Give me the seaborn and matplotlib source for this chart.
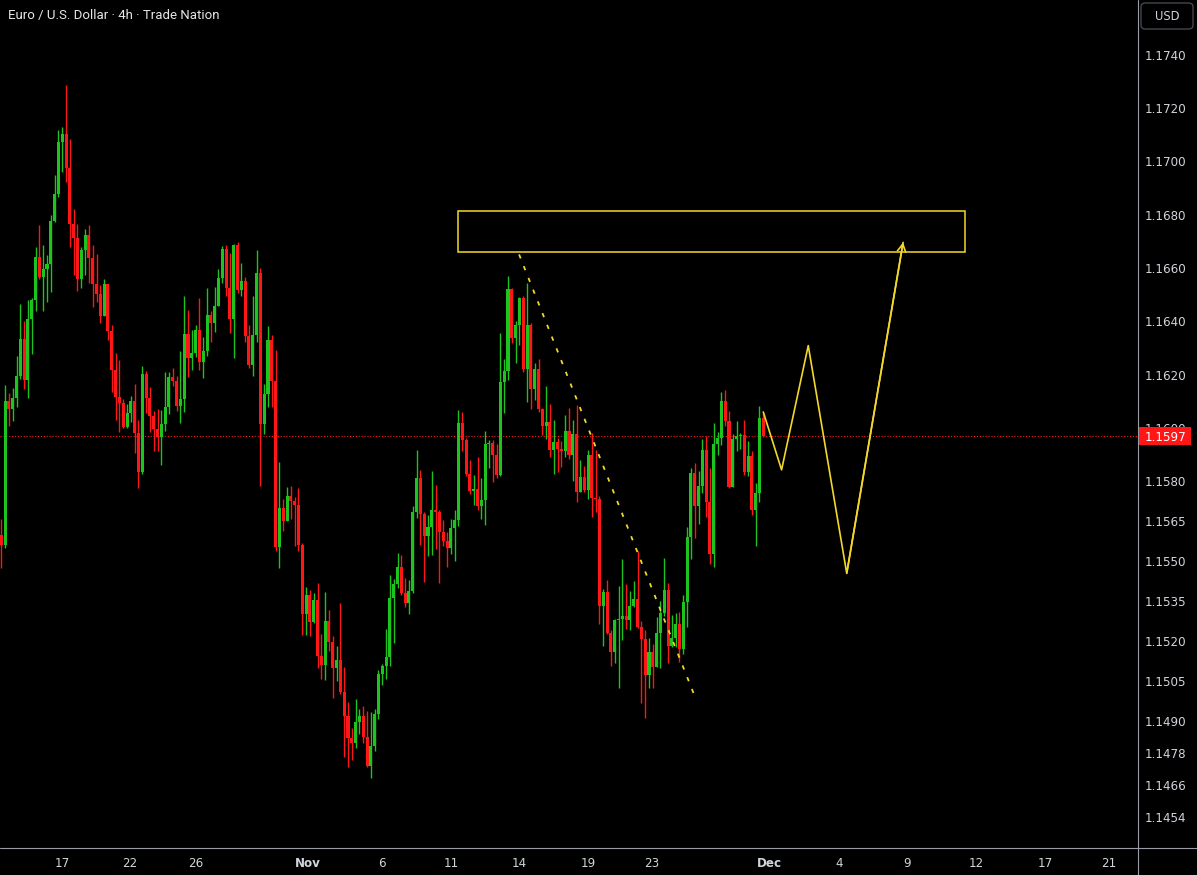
# EUR/USD 4h candlestick chart with a projected path
import matplotlib
matplotlib.use("Agg")
import numpy as np
import matplotlib.pyplot as plt
import matplotlib.transforms as mtransforms
from matplotlib.lines import Line2D
from matplotlib.patches import Rectangle, FancyBboxPatch
import seaborn as sns

# Step 1: candle data (open of each bar = previous close)
first_open = 1.15599
closes = [
    1.15561, 1.16101, 1.16071, 1.16113, 1.16195, 1.16334, 1.16180, 1.16409, 1.16480, 1.16641,
    1.16566, 1.16596, 1.16615, 1.16776, 1.16878, 1.17073, 1.17103, 1.16975, 1.16765, 1.16713,
    1.16559, 1.16668, 1.16724, 1.16638, 1.16540, 1.16503, 1.16420, 1.16540, 1.16364, 1.16218,
    1.16116, 1.16094, 1.16004, 1.16056, 1.16101, 1.15981, 1.15835, 1.16203, 1.16113, 1.16045,
    1.15996, 1.15966, 1.16015, 1.16079, 1.16191, 1.16176, 1.16083, 1.16109, 1.16353, 1.16263,
    1.16281, 1.16368, 1.16248, 1.16289, 1.16424, 1.16394, 1.16458, 1.16563, 1.16671, 1.16525,
    1.16409, 1.16686, 1.16518, 1.16551, 1.16345, 1.16236, 1.16349, 1.16581, 1.16015, 1.16128,
    1.16330, 1.16176, 1.15554, 1.15700, 1.15651, 1.15745, 1.15726, 1.15711, 1.15561, 1.15303,
    1.15374, 1.15273, 1.15355, 1.15145, 1.15111, 1.15276, 1.15198, 1.15100, 1.15130, 1.15010,
    1.14920, 1.14838, 1.14819, 1.14898, 1.14920, 1.14841, 1.14733, 1.14808, 1.14928, 1.15078,
    1.15108, 1.15141, 1.15363, 1.15415, 1.15479, 1.15381, 1.15344, 1.15389, 1.15685, 1.15813,
    1.15678, 1.15595, 1.15629, 1.15693, 1.15685, 1.15610, 1.15576, 1.15550, 1.15625, 1.15655,
    1.16019, 1.15955, 1.15828, 1.15764, 1.15771, 1.15708, 1.15730, 1.15940, 1.15944, 1.15899,
    1.15824, 1.16173, 1.16214, 1.16521, 1.16338, 1.16386, 1.16488, 1.16221, 1.16386, 1.16146,
    1.16221, 1.16071, 1.16008, 1.16023, 1.15918, 1.15948, 1.15921, 1.15914, 1.15989, 1.15899,
    1.15978, 1.15760, 1.15816, 1.15768, 1.15899, 1.15738, 1.15734, 1.15333, 1.15385, 1.15231,
    1.15160, 1.15280, 1.15284, 1.15295, 1.15280, 1.15333, 1.15359, 1.15254, 1.15209, 1.15074,
    1.15160, 1.15104, 1.15231, 1.15306, 1.15393, 1.15183, 1.15213, 1.15265, 1.15171, 1.15348,
    1.15591, 1.15831, 1.15708, 1.15783, 1.15918, 1.15723, 1.15528, 1.15940, 1.15963, 1.16101,
    1.16026, 1.15779, 1.15959, 1.15970, 1.15974, 1.15835, 1.15895, 1.15693, 1.15756, 1.16038,
    1.15970,
]
highs = [
    1.15659, 1.16161, 1.16131, 1.16150, 1.16270, 1.16465, 1.16401, 1.16480, 1.16488, 1.16679,
    1.16761, 1.16686, 1.16649, 1.16799, 1.16949, 1.17118, 1.17129, 1.17286, 1.17084, 1.16821,
    1.16765, 1.16679, 1.16746, 1.16761, 1.16686, 1.16653, 1.16536, 1.16559, 1.16540, 1.16386,
    1.16281, 1.16255, 1.16109, 1.16090, 1.16120, 1.16165, 1.16030, 1.16233, 1.16214, 1.16154,
    1.16064, 1.16071, 1.16068, 1.16210, 1.16210, 1.16225, 1.16195, 1.16289, 1.16495, 1.16443,
    1.16368, 1.16386, 1.16488, 1.16341, 1.16525, 1.16439, 1.16529, 1.16596, 1.16683, 1.16686,
    1.16656, 1.16690, 1.16698, 1.16619, 1.16566, 1.16386, 1.16495, 1.16668, 1.16600, 1.16165,
    1.16383, 1.16349, 1.16293, 1.15873, 1.15734, 1.15779, 1.15783, 1.15741, 1.15775, 1.15569,
    1.15404, 1.15393, 1.15381, 1.15419, 1.15228, 1.15385, 1.15318, 1.15220, 1.15183, 1.15344,
    1.15104, 1.14973, 1.14875, 1.14984, 1.14946, 1.14958, 1.14939, 1.14935, 1.14946, 1.15093,
    1.15115, 1.15246, 1.15449, 1.15434, 1.15531, 1.15524, 1.15438, 1.15430, 1.15708, 1.15918,
    1.15843, 1.15685, 1.15674, 1.15839, 1.15786, 1.15693, 1.15655, 1.15610, 1.15659, 1.15693,
    1.16068, 1.16060, 1.15963, 1.15880, 1.15824, 1.15891, 1.15813, 1.15989, 1.15955, 1.15955,
    1.15940, 1.16356, 1.16259, 1.16570, 1.16525, 1.16401, 1.16491, 1.16495, 1.16544, 1.16394,
    1.16244, 1.16259, 1.16075, 1.16158, 1.16090, 1.16030, 1.15963, 1.15951, 1.16049, 1.16075,
    1.16030, 1.16086, 1.15880, 1.15858, 1.15918, 1.15981, 1.15918, 1.15745, 1.15396, 1.15430,
    1.15243, 1.15284, 1.15408, 1.15509, 1.15415, 1.15389, 1.15426, 1.15539, 1.15276, 1.15243,
    1.15213, 1.15190, 1.15291, 1.15351, 1.15513, 1.15419, 1.15299, 1.15306, 1.15310, 1.15374,
    1.15629, 1.15850, 1.15869, 1.15839, 1.15959, 1.15970, 1.15850, 1.16019, 1.15985, 1.16135,
    1.16143, 1.16064, 1.15978, 1.16026, 1.15981, 1.16030, 1.15951, 1.15914, 1.15794, 1.16083,
    1.16060,
]
lows = [
    1.15475, 1.15550, 1.16008, 1.16026, 1.16079, 1.16184, 1.16146, 1.16113, 1.16278, 1.16439,
    1.16559, 1.16439, 1.16473, 1.16510, 1.16773, 1.16866, 1.16960, 1.16923, 1.16679, 1.16574,
    1.16514, 1.16525, 1.16574, 1.16544, 1.16454, 1.16473, 1.16394, 1.16420, 1.16330, 1.16135,
    1.16030, 1.15985, 1.16000, 1.16000, 1.16023, 1.15906, 1.15775, 1.15828, 1.16056, 1.15985,
    1.15914, 1.15914, 1.15861, 1.15989, 1.16053, 1.16158, 1.16064, 1.16019, 1.16060, 1.16191,
    1.16218, 1.16266, 1.16218, 1.16188, 1.16270, 1.16323, 1.16360, 1.16458, 1.16544, 1.16495,
    1.16356, 1.16263, 1.16506, 1.16495, 1.16323, 1.16225, 1.16195, 1.16323, 1.15783, 1.15978,
    1.16079, 1.16079, 1.15539, 1.15475, 1.15614, 1.15655, 1.15659, 1.15558, 1.15539, 1.15224,
    1.15224, 1.15220, 1.15269, 1.15100, 1.15059, 1.15055, 1.15164, 1.14988, 1.15051, 1.15003,
    1.14766, 1.14729, 1.14755, 1.14800, 1.14853, 1.14819, 1.14729, 1.14688, 1.14789, 1.14909,
    1.15036, 1.15059, 1.15108, 1.15194, 1.15400, 1.15374, 1.15329, 1.15303, 1.15381, 1.15663,
    1.15561, 1.15423, 1.15520, 1.15524, 1.15546, 1.15419, 1.15558, 1.15479, 1.15528, 1.15501,
    1.15633, 1.15914, 1.15820, 1.15753, 1.15711, 1.15693, 1.15659, 1.15636, 1.15850, 1.15798,
    1.15813, 1.15820, 1.16056, 1.16180, 1.16319, 1.16244, 1.16311, 1.16210, 1.16098, 1.16071,
    1.16105, 1.16060, 1.15974, 1.15959, 1.15891, 1.15828, 1.15835, 1.15854, 1.15891, 1.15884,
    1.15801, 1.15723, 1.15760, 1.15760, 1.15734, 1.15666, 1.15685, 1.15265, 1.15183, 1.15228,
    1.15108, 1.15119, 1.15025, 1.15205, 1.15246, 1.15243, 1.15329, 1.15250, 1.14969, 1.14913,
    1.15025, 1.15025, 1.15108, 1.15100, 1.15295, 1.15119, 1.15179, 1.15179, 1.15123, 1.15153,
    1.15254, 1.15509, 1.15588, 1.15640, 1.15756, 1.15666, 1.15490, 1.15479, 1.15899, 1.15936,
    1.16008, 1.15775, 1.15779, 1.15914, 1.15921, 1.15824, 1.15820, 1.15674, 1.15558, 1.15723,
    1.15966,
]

last_price = 1.1597
price_ticks = [1.1740, 1.1720, 1.1700, 1.1680, 1.1660, 1.1640, 1.1620, 1.1600, 1.1580,
               1.1565, 1.1550, 1.1535, 1.1520, 1.1505, 1.1490, 1.1478, 1.1466, 1.1454]
date_labels = ["17", "22", "26", "Nov", "6", "11", "14", "19", "23",
               "Dec", "4", "9", "12", "17", "21"]
date_bars = [15.9, 33.8, 51.1, 80.5, 99.9, 118.0, 135.9, 154.0, 170.8,
             201.5, 219.9, 237.7, 255.8, 273.9, 290.7]

# drawings: supply zone, falling trendline, projected path
zone_bars = [119.9, 252.9]
zone_prices = [1.16659, 1.16814]
trend_bars = [135.9, 182.1]
trend_prices = [1.16651, 1.14991]
path_bars = [200.0, 204.8, 211.8, 221.9, 236.7]
path_prices = [1.16060, 1.15843, 1.16309, 1.15455, 1.16696]

# Step 2: style
UP = "#1ec41e"
DOWN = "#ff1616"
YELLOW = "#f2d82a"
TEXT = "#d1d4dc"
SEP = "#9a9da6"

sns.set_theme(style="dark", rc={"axes.facecolor": "black",
                                "figure.facecolor": "black",
                                "savefig.facecolor": "black"})
plt.rcParams["font.family"] = ["DejaVu Sans"]

W, H = 1197, 875
fig = plt.figure(figsize=(W / 100, H / 100), dpi=100)
ax = fig.add_axes([0, 27 / H, 1138 / W, 848 / H])
ax.set_facecolor("black")

# Step 3: candles
opens = [first_open] + closes[:-1]
x = np.arange(len(closes))
o = np.array(opens)
c = np.array(closes)
hi = np.maximum(np.array(highs), np.maximum(o, c))
lo = np.minimum(np.array(lows), np.minimum(o, c))
colors = [UP if cc >= oo else DOWN for oo, cc in zip(o, c)]
ax.vlines(x, lo, hi, colors=colors, lw=1.0, zorder=2)
body_bottom = np.minimum(o, c)
body_height = np.maximum(np.abs(c - o), 0.00003)
ax.bar(x, body_height, bottom=body_bottom, width=0.8, color=colors,
       linewidth=0, zorder=3)

# current price dotted line
ax.axhline(last_price, color=DOWN, lw=0.8, ls=(0, (1, 1.6)), zorder=1)

# Step 4: drawings
ax.add_patch(Rectangle((zone_bars[0], zone_prices[0]), zone_bars[1] - zone_bars[0],
                       zone_prices[1] - zone_prices[0], fill=False, ec=YELLOW,
                       lw=1.1, zorder=4))
ax.plot(trend_bars, trend_prices, color=YELLOW, lw=1.3, ls=(0, (2.4, 4.6)), zorder=4)
sns.lineplot(x=path_bars, y=path_prices, sort=False, estimator=None,
             color=YELLOW, lw=1.2, ax=ax, zorder=4)
ax.annotate("", xy=(path_bars[-1], path_prices[-1]),
            xytext=(path_bars[-2], path_prices[-2]),
            arrowprops=dict(arrowstyle="->,head_length=0.45,head_width=0.25",
                            color=YELLOW, lw=1.2, shrinkA=0, shrinkB=0), zorder=4)

# Step 5: axes
ax.set_xlim(-0.34, 298.35)
ax.set_ylim(1.17605 - 848 * 0.0000375, 1.17605)
ax.grid(False)
for sp in ax.spines.values():
    sp.set_visible(False)

ax.yaxis.tick_right()
ax.set_yticks(price_ticks)
ax.set_yticklabels([f"{p:.4f}" for p in price_ticks])
ax.tick_params(axis="y", length=0, pad=5, labelsize=8.6, labelcolor=TEXT)
ax.set_xticks(date_bars)
ax.set_xticklabels(date_labels)
ax.tick_params(axis="x", length=0, pad=6.5, labelsize=8.6, labelcolor=TEXT)
for lab in ax.get_xticklabels():
    if lab.get_text() in ("Nov", "Dec"):
        lab.set_fontweight("bold")
ax.set_xlabel("")
ax.set_ylabel("")

# last price tag on the scale (it covers part of the 1.1600 label, as in the original)
trans = mtransforms.blended_transform_factory(ax.transAxes, ax.transData)
ax.add_patch(Rectangle((1.0, last_price - 0.00032), 53 / 1138, 0.00064,
                       transform=trans, clip_on=False, fc=DOWN, ec="none", zorder=5))
ax.text(1.0 + 7 / 1138, last_price, f"{last_price:.4f}", transform=trans,
        color="white", fontsize=8.6, va="center_baseline", ha="left",
        clip_on=False, zorder=6)

# scale separators
fig.add_artist(Line2D([1138 / W, 1138 / W], [0, 1], transform=fig.transFigure,
                      color=SEP, lw=0.8))
fig.add_artist(Line2D([0, 1], [27 / H, 27 / H], transform=fig.transFigure,
                      color=SEP, lw=0.8))

# currency button and title
fig.add_artist(FancyBboxPatch((1141 / W, (H - 29) / H), 52 / W, 26 / H,
                              boxstyle="round,pad=0,rounding_size=0.004",
                              transform=fig.transFigure, fc="black", ec="#4a4d56", lw=0.9))
fig.text(1167 / W, 1 - 16 / H, "USD", color=TEXT, fontsize=8.3, ha="center", va="center")
fig.text(8 / W, 1 - 16 / H, "Euro / U.S. Dollar · 4h · Trade Nation", color="#e6e6e6",
         fontsize=9.5, family=["Roboto", "DejaVu Sans"], ha="left", va="center")

fig.savefig("out.png", dpi=100, facecolor="black")
